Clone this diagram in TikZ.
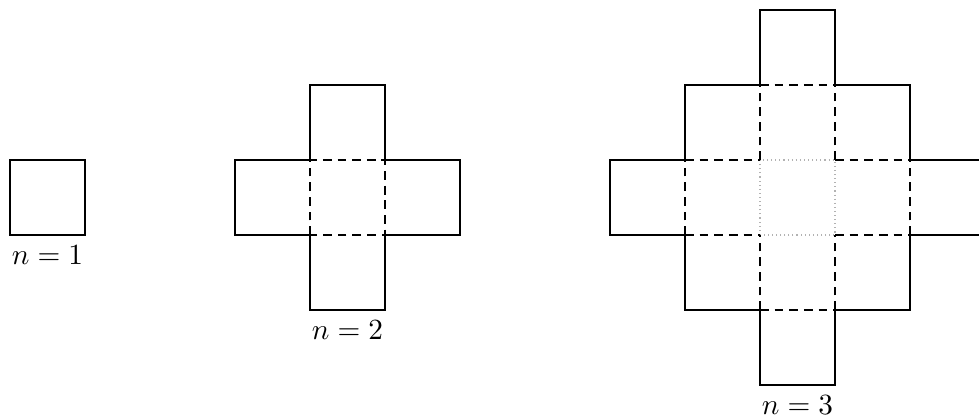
\documentclass[tikz,border=0pt]{standalone}
\usetikzlibrary{positioning}
\begin{document}
\begin{tikzpicture}[x=0.9cm, y=0.9cm,
  edge/.style={line width=0.7pt, line join=miter},
  seam/.style={line width=0.7pt, dash pattern=on 3pt off 2pt},
  core/.style={thin, gray!60, densely dotted},
  lbl/.style={inner sep=1pt}]
  \clip (-0.133,-2.44) rectangle (12.92,3.133);

  % n = 1
  \draw[edge] (0,0) rectangle (1,1);
  \coordinate (baseA) at (0.5,0);
  \node[lbl, below=2.5pt of baseA] (lblA) {$n=1$};

  % n = 2
  \draw[seam] (4,0) rectangle (5,1);
  \draw[edge] (3,0) -- (4,0) -- (4,-1) -- (5,-1) -- (5,0) -- (6,0) -- (6,1)
    -- (5,1) -- (5,2) -- (4,2) -- (4,1) -- (3,1) -- cycle;
  \coordinate (baseB) at (4.5,-1);
  \node[lbl, below=2.5pt of baseB] (lblB) {$n=2$};

  % n = 3
  \draw[core] (10,0) rectangle (11,1);
  \foreach \a in {10,11} {
    \draw[seam] (\a,-1) -- (\a,0) (\a,1) -- (\a,2);
  }
  \foreach \b in {0,1} {
    \draw[seam] (9,\b) -- (10,\b) (11,\b) -- (12,\b);
  }
  \draw[seam] (9,0) -- (9,1) (12,0) -- (12,1) (10,-1) -- (11,-1) (10,2) -- (11,2);
  \draw[edge] (8,0) -- (9,0) -- (9,-1) -- (10,-1) -- (10,-2) -- (11,-2) -- (11,-1)
    -- (12,-1) -- (12,0) -- (13,0) -- (13,1) -- (12,1) -- (12,2) -- (11,2)
    -- (11,3) -- (10,3) -- (10,2) -- (9,2) -- (9,1) -- (8,1) -- cycle;
  \coordinate (baseC) at (10.5,-2);
  \node[lbl, below=2.5pt of baseC] (lblC) {$n=3$};
\end{tikzpicture}
\end{document}
